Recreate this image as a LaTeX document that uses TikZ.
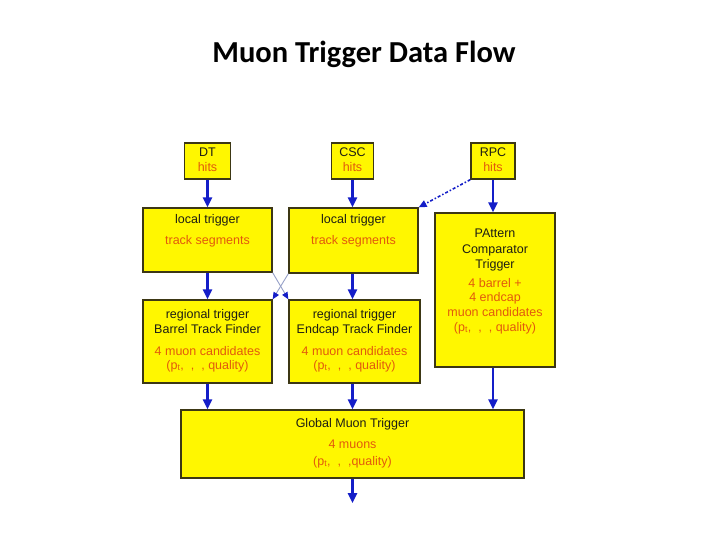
\documentclass[tikz,border=0pt]{standalone}
\usepackage{fontspec}
\setmainfont{Liberation Sans}
\newfontfamily\titlefont{Carlito}
\usetikzlibrary{arrows.meta,calc}
\definecolor{boxyellow}{RGB}{255,247,0}
\definecolor{boxline}{RGB}{60,55,20}
\definecolor{txtorange}{RGB}{226,90,12}
\definecolor{txtdark}{RGB}{30,30,20}
\definecolor{arrblue}{RGB}{20,30,200}
\definecolor{crossline}{RGB}{150,160,200}
\tikzset{
  x=1pt,y=-1pt,
  ybox/.style={draw=boxline,line width=1.3pt,fill=boxyellow,inner sep=0pt},
  blk/.style={text=txtdark,inner sep=0pt,font=\fontsize{12.5}{14}\selectfont,text height=9pt,text depth=3pt},
  org/.style={blk,text=txtorange},
  flow/.style={draw=arrblue,line width=2.4pt,-{Triangle[length=10pt,width=9pt]}},
  crossflow/.style={draw=crossline,line width=0.9pt,-{Triangle[length=7pt,width=6pt,fill=arrblue,color=arrblue]}},
  dotflow/.style={draw=arrblue,line width=1.6pt,dash pattern=on 3pt off 2pt on 1.5pt off 2pt,-{Triangle[length=8pt,width=7pt]}}
}
\begin{document}
\begin{tikzpicture}
\useasboundingbox (0,0) rectangle (720,540);
\fill[white] (0,0) rectangle (720,540);

\node[anchor=base,inner sep=0pt,font=\titlefont\bfseries\fontsize{30.5}{33}\selectfont] (title) at (364,63) {Muon Trigger Data Flow};

% top hits boxes
\node[ybox,minimum width=46pt,minimum height=36pt] (dth) at (207.5,161) {};
\node[ybox,minimum width=42pt,minimum height=36pt] (csch) at (352.5,161) {};
\node[ybox,minimum width=44pt,minimum height=36pt] (rpch) at (493,161) {};

% local trigger boxes
\node[ybox,minimum width=129pt,minimum height=64pt] (dtl) at (207.5,240) {};
\node[ybox,minimum width=129pt,minimum height=65pt] (cscl) at (353.5,240.5) {};

% PAC
\node[ybox,minimum width=120pt,minimum height=154pt] (pac) at (495,290) {};

% regional
\node[ybox,minimum width=129pt,minimum height=83pt] (btf) at (207.5,341.5) {};
\node[ybox,minimum width=131pt,minimum height=83pt] (etf) at (354.5,341.5) {};

% global
\node[ybox,minimum width=343pt,minimum height=68pt] (gmt) at (352.5,444) {};
\coordinate (out) at (352.5,503);

% texts
\node[blk] (t1) at (207.5,154) {DT};
\node[org] (t2) at (207.5,169) {hits};
\node[blk] (t3) at (352.5,154) {CSC};
\node[org] (t4) at (352.5,169) {hits};
\node[blk] (t5) at (493,154) {RPC};
\node[org] (t6) at (493,169) {hits};

\node[blk] (t7) at (207.5,221) {local trigger};
\node[org] (t8) at (207.5,241) {track segments};
\node[blk] (t9) at (353.5,221) {local trigger};
\node[org] (t10) at (353.5,241) {track segments};

\node[blk] (t11) at (495,234) {PAttern};
\node[blk] (t12) at (495,250) {Comparator};
\node[blk] (t13) at (495,265) {Trigger};
\node[org] (t14) at (495,284) {4 barrel +};
\node[org] (t15) at (495,298) {4 endcap};
\node[org] (t16) at (495,313) {muon candidates};
\node[org] (t17) at (495,328) {(p\textsubscript{t}, \ , \ , quality)};

\node[blk] (t18) at (207.5,315) {regional trigger};
\node[blk] (t19) at (207.5,330) {Barrel Track Finder};
\node[org] (t20) at (207.5,352) {4 muon candidates};
\node[org] (t21) at (207.5,366) {(p\textsubscript{t}, \ , \ , quality)};
\node[blk] (t22) at (354.5,315) {regional trigger};
\node[blk] (t23) at (354.5,330) {Endcap Track Finder};
\node[org] (t24) at (354.5,352) {4 muon candidates};
\node[org] (t25) at (354.5,366) {(p\textsubscript{t}, \ , \ , quality)};

\node[blk] (t26) at (352.5,424) {Global Muon Trigger};
\node[org] (t27) at (352.5,445) {4 muons};
\node[org] (t28) at (352.5,462) {(p\textsubscript{t}, \ , \ ,quality)};

% connectors
\draw[flow] (dth.south) -- (dth.south |- dtl.north);
\draw[flow] (csch.south) -- (csch.south |- cscl.north);
\draw[flow] (rpch.south) -- (rpch.south |- pac.north);
\draw[dotflow] (rpch.south west) -- (cscl.north east);

\draw[flow] (dtl.south) -- (dtl.south |- btf.north);
\draw[flow] (csch.south |- cscl.south) -- (csch.south |- etf.north);
\draw[crossflow] (dtl.south east) -- (etf.north west);
\draw[crossflow] (cscl.south west) -- (btf.north east);

\draw[flow] (btf.south) -- (btf.south |- gmt.north);
\draw[flow] (csch.south |- etf.south) -- (csch.south |- gmt.north);
\draw[flow] (rpch.south |- pac.south) -- (rpch.south |- gmt.north);
\draw[flow] (gmt.south) -- (out);
\end{tikzpicture}
\end{document}
